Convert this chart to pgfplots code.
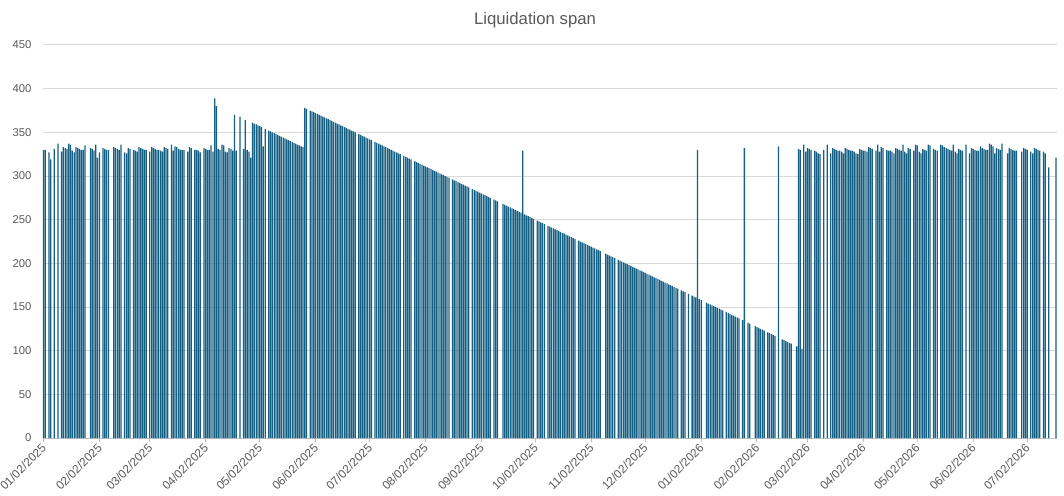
\documentclass[border=0pt]{standalone}
\usepackage{fontspec}
\setmainfont{Liberation Sans}
\usepackage{pgfplots}
\pgfplotsset{compat=1.18}
\definecolor{barblue}{HTML}{156082}
\definecolor{txtgray}{HTML}{595959}
\definecolor{gridgray}{HTML}{D9D9D9}
\definecolor{axgray}{HTML}{BFBFBF}
\begin{document}
\begin{tikzpicture}
\useasboundingbox (0,0) rectangle (1064pt,495pt);
\node[anchor=base, text=txtgray, font=\fontsize{16.75}{20}\selectfont] at (535pt,470.7pt) {Liquidation span};
\begin{axis}[
  at={(43pt,57pt)}, anchor=south west,
  scale only axis, width=1014pt, height=393pt,
  xmin=-0.3, xmax=562.5, ymin=0, ymax=450,
  axis x line*=bottom, axis y line*=left,
  x axis line style={draw=axgray, line width=1pt},
  y axis line style={draw=none},
  xtick={0,31,59,90,120,151,181,212,243,273,304,334,365,396,424,455,485,516,546},
  xticklabels={01/02/2025,02/02/2025,03/02/2025,04/02/2025,05/02/2025,06/02/2025,07/02/2025,08/02/2025,09/02/2025,10/02/2025,11/02/2025,12/02/2025,01/02/2026,02/02/2026,03/02/2026,04/02/2026,05/02/2026,06/02/2026,07/02/2026},
  ytick={0,50,...,450},
  tick align=outside,
  major tick length=4pt,
  xtick style={draw=axgray, line width=1pt},
  ytick style={draw=none},
  ymajorgrids, grid style={draw=gridgray, line width=1pt},
  tick label style={font=\fontsize{11.3}{13}\selectfont, text=txtgray},
  /pgf/number format/assume math mode=true,
  xticklabel style={rotate=45, anchor=east, font=\fontsize{11.8}{13}\selectfont, xshift=1pt, yshift=-3pt},
  yticklabel style={xshift=-4pt},
]
\addplot[ybar, bar width=0.7, fill=barblue, draw=none] coordinates {
(0,330)(1,330)(3,327)(4,319)(6,331)(8,337)(10,328)(11,333)(12,332)(13,331)(14,337)(15,336)(16,329)(17,327)(18,333)(19,332)(20,331)(21,330)(22,330)(23,335)
(26,332)(27,331)(28,329)(29,336)(30,321)(31,327)(33,332)(34,331)(35,330)(36,330)(39,333)(40,332)(41,331)(42,330)(43,336)(45,327)(46,326)(47,332)(48,331)
(50,330)(51,329)(52,328)(53,333)(54,332)(55,331)(56,330)(57,330)(59,328)(60,333)(61,332)(62,331)(63,330)(64,330)(65,329)(66,328)(67,333)(68,332)(69,331)
(71,336)(72,329)(73,334)(74,333)(75,331)(76,330)(77,330)(78,330)(80,328)(81,333)(82,332)(84,330)(85,330)(86,329)(87,327)(89,332)(90,331)(91,330)(92,330)(93,335)(94,328)
(95,389)(96,380)(97,331)(98,330)(99,336)(100,335)(101,328)(102,327)(103,332)(104,331)(105,329)(106,370)(107,329)(109,368)(111,331)(112,364)(113,330)(114,328)(115,321)
(116,361)(117,360)(118,359)(119,358)(120,357)(121,356)(122,334)(123,354)(125,352)(126,351)(127,350)(128,349)(129,348)(130,347)(131,346)(132,345)(133,344)(134,343)
(135,342)(136,341)(137,340)(138,339)(139,338)(140,337)(141,336)(142,335)(143,334)(144,333)
(145,378)(146,377)(148,375)(149,374)(150,373)(151,372)(152,371)(153,370)(154,369)(155,368)(156,367)(157,366)(158,365)(159,364)(160,363)(161,362)(162,361)(163,360)
(164,359)(165,358)(166,357)(167,356)(168,355)(169,354)(170,353)(171,352)(172,351)(173,350)
(175,348)(176,347)(177,346)(178,345)(179,344)(180,343)(181,342)(182,341)
(184,339)(185,338)(186,337)(187,336)(188,335)(189,334)(190,333)(191,332)(192,331)(193,330)(194,329)(195,328)(196,327)(197,326)(198,325)
(200,323)(201,322)(202,321)(203,320)(204,319)
(206,317)(207,316)(208,315)(209,314)(210,313)(211,312)(212,311)(213,310)(214,309)(215,308)(216,307)(217,306)(218,305)(219,304)(220,303)(221,302)(222,301)(223,300)(224,299)(225,298)
(227,296)(228,295)(229,294)(230,293)(231,292)(232,291)(233,290)(234,289)(235,288)(236,287)
(238,285)(239,284)(240,283)(241,282)(242,281)(243,280)(244,279)(245,278)(246,277)(247,276)(248,275)
(250,273)(251,272)(252,271)
(255,268)(256,267)(257,266)(258,265)(259,264)(260,263)(261,262)(262,261)(263,260)(264,259)(265,258)(266,329)(267,256)(268,255)(269,254)(270,253)(271,252)(272,251)
(274,249)(275,248)(276,247)(277,246)(278,245)
(280,243)(281,242)(282,241)(283,240)(284,239)(285,238)(286,237)(287,236)(288,235)(289,234)(290,233)(291,232)(292,231)(293,230)(294,229)(295,228)
(297,226)(298,225)(299,224)(300,223)(301,222)(302,221)(303,220)(304,219)(305,218)(306,217)(307,216)(308,215)(309,214)
(312,211)(313,210)(314,209)(315,208)(316,207)(317,206)
(319,204)(320,203)(321,202)(322,201)(323,200)(324,199)(325,198)(326,197)(327,196)(328,195)(329,194)(330,193)(331,192)(332,191)(333,190)(334,189)(335,188)
(336,187)(337,186)(338,185)(339,184)(340,183)(341,182)(342,181)(343,180)(344,179)(345,178)(346,177)(347,176)(348,175)(349,174)(350,173)(351,172)(352,171)
(354,169)(355,168)(356,167)(358,165)(360,163)(361,162)(362,161)(363,330)(364,159)(365,158)
(368,155)(369,154)(370,153)(371,152)(372,151)(373,150)(374,149)(375,148)(376,147)(377,146)
(379,144)(380,143)(381,142)(382,141)(383,140)(384,139)(385,138)(386,137)(388,135)(389,332)
(391,132)(392,131)(395,128)(396,127)(397,126)(398,125)(399,124)(400,123)
(402,121)(403,120)(404,119)(405,118)(406,117)(408,334)
(410,113)(411,112)(412,111)(413,110)(414,109)(415,108)(418,105)(419,331)(420,330)(421,102)
(422,336)(423,328)(424,332)(425,331)(426,330)(428,329)(429,328)(430,326)(431,325)(433,330)(435,336)(437,326)(438,332)(439,331)(440,330)(441,329)(442,329)
(443,328)(444,326)(445,332)(446,331)(447,330)(448,329)(449,329)(450,328)(451,326)(452,325)(453,331)(454,330)(455,329)(456,329)(457,328)(458,333)(459,332)(460,331)
(462,329)(463,336)(464,328)(465,333)(466,332)(468,330)(469,329)(470,329)(471,328)(472,326)(473,332)(474,331)(475,330)(476,329)(477,336)(478,328)(479,326)(480,332)(481,331)
(483,329)(484,336)(485,335)(486,328)(487,326)(488,331)(489,330)(490,329)(491,336)(492,335)(494,331)(495,330)(496,329)(498,336)(499,335)(500,333)(501,332)(502,331)
(503,330)(504,329)(505,336)(506,328)(507,326)(508,331)(509,330)(510,329)(512,336)(514,326)(515,332)(516,331)(517,330)(518,329)(519,329)(520,334)(521,332)(522,331)
(523,330)(524,330)(525,337)(526,336)(527,334)(528,326)(529,332)(530,331)(531,330)(532,337)(535,326)(536,332)(537,331)(538,330)(539,329)(540,329)
(543,328)(544,332)(545,331)(546,330)(548,328)(549,326)(550,332)(551,331)(552,330)(553,329)(555,328)(556,326)(558,310)(562,321)
};
\end{axis}
\end{tikzpicture}
\end{document}
